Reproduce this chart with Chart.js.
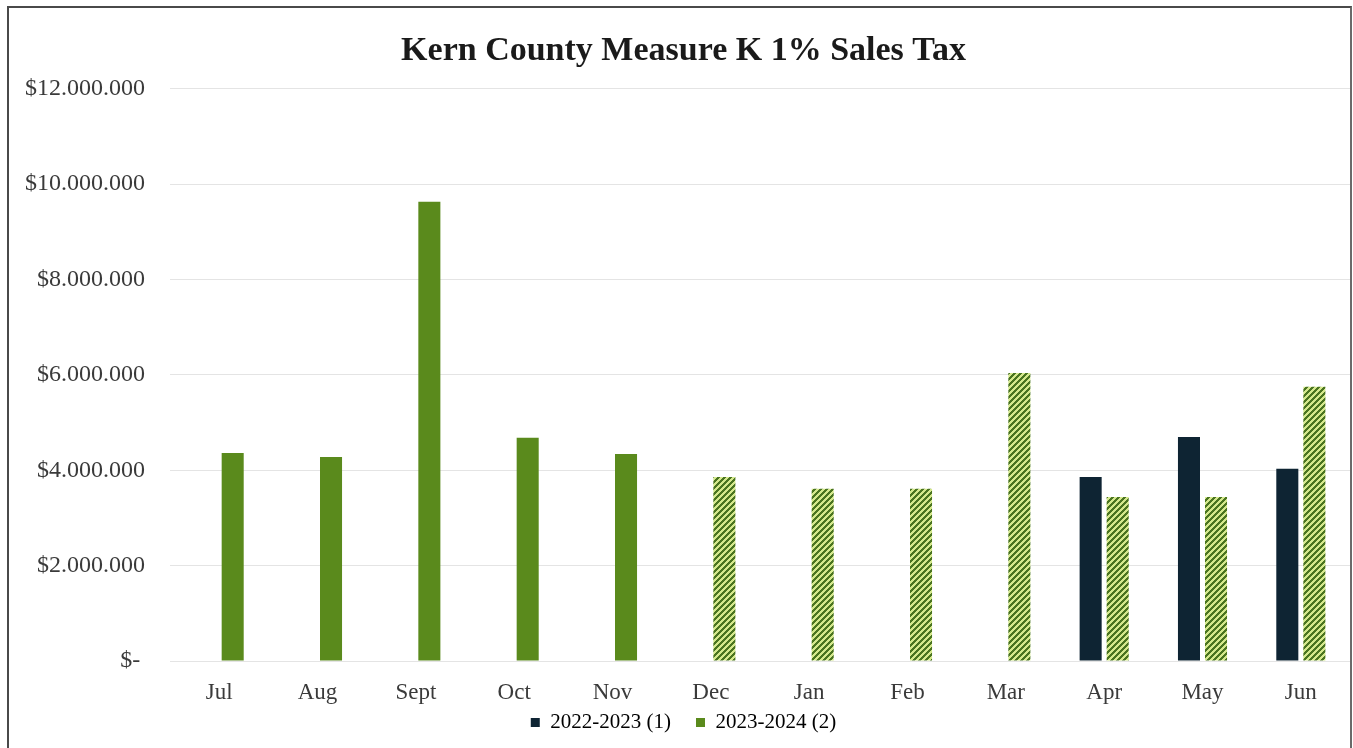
<!DOCTYPE html>
<html>
<head>
<meta charset="utf-8">
<script src="https://cdn.jsdelivr.net/npm/chart.js@4.4.1/dist/chart.umd.min.js"></script>
<style>
  html, body { margin: 0; padding: 0; background: #fff; overflow: hidden; }
  #wrap { position: absolute; left: 0; top: 0; width: 1353px; height: 748px; }
  #frame { position: absolute; left: 7px; top: 6px; width: 1341px; height: 800px; border: 2px solid #4a4a4a; border-right-color: #6a6a6a; pointer-events: none; }
</style>
</head>
<body>
<div id="wrap"><canvas id="c" width="1353" height="748"></canvas></div>
<div id="frame"></div>
<script>
const categories = ['Jul', 'Aug', 'Sept', 'Oct', 'Nov', 'Dec', 'Jan', 'Feb', 'Mar', 'Apr', 'May', 'Jun'];
const seriesNames = ['2022-2023 (1)', '2023-2024 (2)'];
const fy2223 = [null, null, null, null, null, null, null, null, null, 3860000, 4700000, 4030000];
const fy2324 = [4360000, 4280000, 9630000, 4680000, 4340000, 3860000, 3610000, 3610000, 6040000, 3440000, 3440000, 5750000];
// true = actual (solid), false = projected (hatched)
const fy2324Actual = [true, true, true, true, true, false, false, false, false, false, false, false];
const yTicks = [0, 2000000, 4000000, 6000000, 8000000, 10000000, 12000000];

const darkColor = '#0e2433';
const greenColor = '#5a8a1c';

function makeHatch() {
  const s = 6;
  const cv = document.createElement('canvas');
  cv.width = s; cv.height = s;
  const g = cv.getContext('2d');
  const img = g.createImageData(s, s);
  for (let y = 0; y < s; y++) {
    for (let x = 0; x < s; x++) {
      const k = (x + y) % s;
      const i = (y * s + x) * 4;
      let c;
      if (k < 3) c = [74, 116, 32];
      else c = [212, 232, 140];
      img.data[i] = c[0]; img.data[i + 1] = c[1]; img.data[i + 2] = c[2]; img.data[i + 3] = 255;
    }
  }
  g.putImageData(img, 0, 0);
  return document.getElementById('c').getContext('2d').createPattern(cv, 'repeat');
}
const hatch = makeHatch();
const greenFills = fy2324Actual.map(a => a ? greenColor : hatch);

function fmt(v) {
  if (v === 0) return '$-\u2009';
  return '$' + String(Math.round(v)).replace(/\B(?=(\d{3})+(?!\d))/g, '.');
}

const serif = "'Liberation Serif', 'Times New Roman', serif";

new Chart(document.getElementById('c'), {
  type: 'bar',
  data: {
    labels: categories,
    datasets: [
      { label: seriesNames[0], data: fy2223, backgroundColor: darkColor, borderWidth: 0 },
      { label: seriesNames[1], data: fy2324, backgroundColor: greenFills, borderWidth: 0 }
    ]
  },
  options: {
    responsive: false,
    animation: false,
    categoryPercentage: 0.55,
    barPercentage: 0.815,
    layout: { padding: { left: 17, right: 3, top: 0, bottom: 5 } },
    plugins: {
      title: {
        display: true,
        text: 'Kern County Measure K 1% Sales Tax',
        color: '#1a1a1a',
        font: { family: serif, size: 34, weight: 'bold' },
        padding: { top: 31, bottom: 17 }
      },
      legend: {
        position: 'bottom',
        labels: {
          color: '#555',
          font: { family: serif, size: 21 },
          boxWidth: 9,
          boxHeight: 9,
          padding: 4,
          generateLabels: () => [
            { text: seriesNames[0] + '\u00a0\u00a0\u00a0\u00a0', fillStyle: darkColor, strokeStyle: darkColor, lineWidth: 0, datasetIndex: 0 },
            { text: seriesNames[1], fillStyle: greenColor, strokeStyle: greenColor, lineWidth: 0, datasetIndex: 1 }
          ]
        }
      },
      tooltip: { enabled: false }
    },
    scales: {
      x: {
        grid: { display: false },
        border: { display: false },
        ticks: {
          color: '#3a3a3a',
          font: { family: serif, size: 23 },
          padding: 10
        },
        afterFit: s => { s.height = 47; }
      },
      y: {
        min: 0,
        max: 12000000,
        border: { display: false },
        grid: { color: '#e4e4e4', lineWidth: 1, drawTicks: false },
        afterBuildTicks: s => { s.ticks = yTicks.map(v => ({ value: v })); },
        ticks: {
          color: '#3a3a3a',
          font: { family: serif, size: 24 },
          padding: 25,
          callback: v => fmt(v)
        },
        afterFit: s => { s.width = 153; }
      }
    }
  }
});
</script>
</body>
</html>
